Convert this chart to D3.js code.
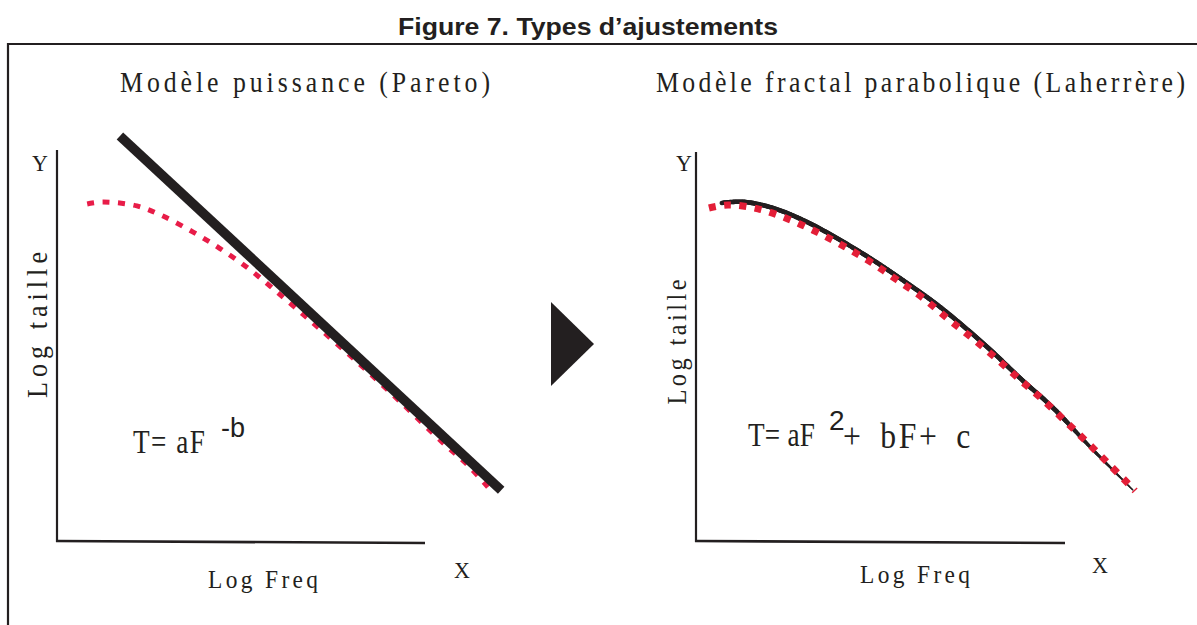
<!DOCTYPE html>
<html><head><meta charset="utf-8">
<script src="https://cdn.jsdelivr.net/npm/d3@7"></script>
<style>html,body{margin:0;padding:0;background:#fff;} svg{display:block;}</style>
</head><body>
<svg id="chart" width="1197" height="625"></svg>
<script>
// ---------- data ----------
const figureTitle = "Figure 7. Types d’ajustements";
const panelTitles = ["Modèle puissance  (Pareto)", "Modèle fractal parabolique (Laherrère)"];
const xAxisLabel = "Log Freq";
const yAxisLabel = "Log taille";
const xEndLabel = "X";
const yEndLabel = "Y";
const leftFormula = ["T= aF", "-b"];
const rightFormula = ["T= aF", "2", "+ bF+ c"];

// left panel : power-law fit (straight line) and observed distribution (dashed)
const leftFitX = [1.71, 12.07];
const leftFitY = [10.36, 1.30];
const leftObsX = [0.82, 1.25, 2.17, 2.88, 3.70, 4.43, 5.16, 5.79, 6.41, 7.15, 8.23, 9.32, 10.49, 11.14, 11.71];
const leftObsY = [8.62, 8.67, 8.57, 8.31, 7.90, 7.48, 7.00, 6.52, 6.02, 5.42, 4.52, 3.57, 2.51, 1.96, 1.38];

// right panel : parabolic fractal fit (solid) and observed distribution (dotted)
const rightFitX = [0.70, 1.27, 2.09, 3.01, 3.90, 4.80, 5.72, 6.61, 7.89, 8.78, 9.68, 10.68, 11.84];
const rightFitY = [8.69, 8.72, 8.56, 8.20, 7.74, 7.22, 6.63, 6.02, 4.99, 4.19, 3.42, 2.42, 1.31];
const rightObsX = [0.35, 0.87, 1.68, 2.49, 3.28, 4.04, 4.77, 5.45, 6.15, 6.83, 7.48, 8.13, 8.75, 9.40, 10.03, 10.62, 11.22, 11.90];
const rightObsY = [8.56, 8.64, 8.54, 8.28, 7.94, 7.56, 7.15, 6.71, 6.25, 5.71, 5.22, 4.70, 4.17, 3.63, 3.06, 2.52, 1.95, 1.29];

const axisDomain = [0, 10];

// ---------- drawing ----------
const ink = "#231f20";
const svg = d3.select("#chart");
const W = 1197, H = 625;
const serif = "'Liberation Serif', 'Times New Roman', serif";
const sans = "'Liberation Sans', Arial, sans-serif";

// condensed, letter-spaced text helper
function condText(parent, str, o) {
  const cond = o.cond || 0.88;
  const rot = o.rotate ? ` rotate(${o.rotate})` : "";
  const t = parent.append("text")
    .attr("transform", `translate(${o.x},${o.y})${rot} scale(${cond},1)`)
    .attr("font-family", o.family || serif).attr("font-size", o.size)
    .attr("text-anchor", o.anchor || "start")
    .attr("fill", ink).text(str);
  if (o.len) t.attr("textLength", o.len / cond).attr("lengthAdjust", "spacing");
  if (o.wordSpacing) t.attr("word-spacing", o.wordSpacing);
  if (o.letterSpacing) t.attr("letter-spacing", o.letterSpacing);
  return t;
}

// figure title
svg.append("text").attr("x", 588).attr("y", 35)
  .attr("text-anchor", "middle")
  .attr("font-family", sans)
  .attr("font-weight", "bold").attr("font-size", 24)
  .attr("textLength", 380).attr("lengthAdjust", "spacingAndGlyphs")
  .attr("fill", ink).text(figureTitle);

// frame (top and left border)
svg.append("path").attr("d", d3.line()([[7, 44], [W, 44]]))
  .attr("stroke", ink).attr("stroke-width", 2.2).attr("fill", "none");
svg.append("path").attr("d", d3.line()([[8, 43], [8, H]]))
  .attr("stroke", ink).attr("stroke-width", 2.2).attr("fill", "none");

const panels = [
  {x0: 57, x1: 425, y0: 541, y1: 150, title: panelTitles[0], titleX: 120, titleLen: 370,
   yLab: {x: 40, y: 171}, xLab: {x: 462, y: 578}, freq: {x: 208, y: 588, len: 110},
   taille: {x: 47, yc: 325, len: 146, size: 29}},
  {x0: 696, x1: 1065, y0: 541, y1: 152, title: panelTitles[1], titleX: 656, titleLen: 529,
   yLab: {x: 684, y: 171}, xLab: {x: 1100, y: 573}, freq: {x: 860, y: 583, len: 110},
   taille: {x: 686, yc: 342, len: 125, size: 27}}
];

panels.forEach((p, i) => {
  const g = svg.append("g");
  p.xs = d3.scaleLinear().domain(axisDomain).range([p.x0, p.x1]);
  p.ys = d3.scaleLinear().domain(axisDomain).range([p.y0, p.y1]);

  condText(g, p.title, {x: p.titleX, y: 92, size: 30, len: p.titleLen, cond: 0.86});

  // axes (plain lines, no ticks)
  g.append("path").attr("d", d3.line()([[p.xs(0), p.ys(10)], [p.xs(0), p.ys(0) + 1]]))
    .attr("stroke", ink).attr("stroke-width", 2.2).attr("fill", "none");
  g.append("path").attr("d", d3.line()([[p.xs(0) - 1, p.ys(0)], [p.xs(10), p.ys(0) + 2]]))
    .attr("stroke", ink).attr("stroke-width", 2.6).attr("fill", "none");

  condText(g, yEndLabel, {x: p.yLab.x, y: p.yLab.y, size: 24, anchor: "middle", cond: 0.92});
  condText(g, xEndLabel, {x: p.xLab.x, y: p.xLab.y, size: 24, anchor: "middle", cond: 0.92});
  condText(g, xAxisLabel, {x: p.freq.x, y: p.freq.y, size: 26, len: p.freq.len, cond: 0.9});
  condText(g, yAxisLabel, {x: p.taille.x, y: p.taille.yc, size: p.taille.size, len: p.taille.len,
    anchor: "middle", rotate: -90, cond: 0.9});
});

// ---- left panel marks ----
const L = panels[0];
const leftObs = leftObsX.map((x, i) => [x, leftObsY[i]]);
const leftFit = leftFitX.map((x, i) => [x, leftFitY[i]]);
const lineL = d3.line().x(d => L.xs(d[0])).y(d => L.ys(d[1])).curve(d3.curveCatmullRom.alpha(0.5));
svg.append("path").attr("d", lineL(leftObs))
  .attr("fill", "none").attr("stroke", "#e81c48").attr("stroke-width", 5)
  .attr("stroke-dasharray", "7 8.5");
svg.append("path").attr("d", d3.line().x(d => L.xs(d[0])).y(d => L.ys(d[1]))(leftFit))
  .attr("fill", "none").attr("stroke", ink).attr("stroke-width", 9.5);

// formula left
condText(svg, leftFormula[0], {x: 133, y: 453, size: 34, len: 72, cond: 0.8});
svg.append("text").attr("x", 221).attr("y", 437)
  .attr("font-family", sans).attr("font-size", 27)
  .attr("fill", ink).text(leftFormula[1]);

// ---- arrow between panels ----
const arrow = {x: 551, yc: 344, w: 43, h: 84};
svg.append("path")
  .attr("d", d3.line()([[arrow.x, arrow.yc - arrow.h / 2], [arrow.x + arrow.w, arrow.yc], [arrow.x, arrow.yc + arrow.h / 2]]) + "Z")
  .attr("fill", ink);

// ---- right panel marks ----
const R = panels[1];
const rightFit = rightFitX.map((x, i) => [x, rightFitY[i]]);
const rightObs = rightObsX.map((x, i) => [x, rightObsY[i]]);
const lineR = d3.line().x(d => R.xs(d[0])).y(d => R.ys(d[1])).curve(d3.curveCatmullRom.alpha(0.5));

// tapering solid fit curve
const hidden = svg.append("path").attr("d", lineR(rightFit)).attr("fill", "none").attr("stroke", "none");
const node = hidden.node();
const total = node.getTotalLength();
const widthAt = d3.scaleLinear().domain([0, 0.8, 1]).range([4.6, 4.6, 1.3]);
const step = 1.5;
const segG = svg.append("g");
for (let s = 0; s < total; s += step) {
  const a = node.getPointAtLength(s), b = node.getPointAtLength(Math.min(total, s + step));
  segG.append("line").attr("x1", a.x).attr("y1", a.y).attr("x2", b.x).attr("y2", b.y)
    .attr("stroke", ink).attr("stroke-width", widthAt(s / total)).attr("stroke-linecap", "round");
}
svg.append("path").attr("d", lineR(rightObs))
  .attr("fill", "none").attr("stroke", "#e31e37").attr("stroke-width", 7)
  .attr("stroke-dasharray", "7 8.4");

// formula right
condText(svg, rightFormula[0], {x: 748, y: 446, size: 34, len: 67, cond: 0.8});
svg.append("text").attr("x", 829).attr("y", 430)
  .attr("font-family", sans).attr("font-size", 28)
  .attr("fill", ink).text(rightFormula[1]);
condText(svg, rightFormula[2], {x: 843, y: 448, size: 36, cond: 0.88,
  wordSpacing: 7, letterSpacing: 3});
</script>
</body></html>
